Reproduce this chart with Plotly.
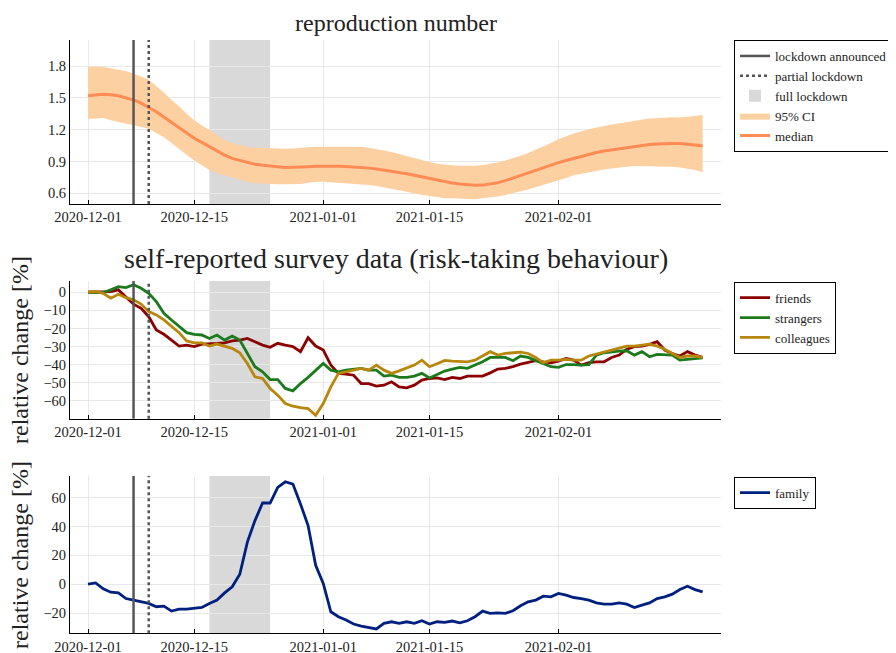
import pandas as pd
import plotly.graph_objects as go

dates = pd.date_range("2020-12-01", periods=82, freq="D")

r_median = [1.52, 1.53, 1.535, 1.53, 1.52, 1.50, 1.48, 1.45, 1.41, 1.37,
            1.32, 1.27, 1.22, 1.17, 1.12, 1.08, 1.04, 1.00, 0.96, 0.93,
            0.91, 0.89, 0.875, 0.865, 0.855, 0.85, 0.845, 0.845, 0.85, 0.852,
            0.855, 0.857, 0.857, 0.855, 0.853, 0.85, 0.845, 0.838, 0.83, 0.82,
            0.81, 0.80, 0.785, 0.77, 0.755, 0.74, 0.725, 0.71, 0.698, 0.688,
            0.68, 0.677, 0.678, 0.688, 0.70, 0.72, 0.745, 0.77, 0.795, 0.82,
            0.845, 0.87, 0.89, 0.91, 0.93, 0.95, 0.97, 0.985, 1.00, 1.01,
            1.025, 1.035, 1.045, 1.05, 1.06, 1.065, 1.07, 1.07, 1.07, 1.065,
            1.055, 1.046]
r_upper = [1.79, 1.795, 1.79, 1.78, 1.765, 1.75, 1.73, 1.70, 1.67, 1.61,
           1.55, 1.48, 1.42, 1.35, 1.29, 1.24, 1.20, 1.15, 1.10, 1.075,
           1.055, 1.04, 1.03, 1.027, 1.025, 1.02, 1.02, 1.022, 1.025, 1.035,
           1.04, 1.04, 1.045, 1.042, 1.04, 1.04, 1.04, 1.03, 1.02, 1.005,
           0.99, 0.97, 0.95, 0.93, 0.915, 0.895, 0.88, 0.87, 0.865, 0.86,
           0.857, 0.86, 0.867, 0.875, 0.89, 0.91, 0.93, 0.955, 0.98, 1.01,
           1.04, 1.075, 1.11, 1.14, 1.165, 1.185, 1.205, 1.22, 1.235, 1.25,
           1.26, 1.27, 1.285, 1.295, 1.305, 1.31, 1.315, 1.317, 1.315, 1.32,
           1.33, 1.34]
r_lower = [1.30, 1.305, 1.31, 1.29, 1.275, 1.26, 1.245, 1.23, 1.21, 1.17,
           1.13, 1.075, 1.02, 0.965, 0.91, 0.865, 0.82, 0.79, 0.77, 0.745,
           0.725, 0.71, 0.695, 0.69, 0.688, 0.687, 0.686, 0.687, 0.688, 0.70,
           0.71, 0.71, 0.705, 0.70, 0.695, 0.693, 0.69, 0.68, 0.67, 0.658,
           0.645, 0.63, 0.615, 0.60, 0.585, 0.575, 0.565, 0.555, 0.553, 0.548,
           0.543, 0.545, 0.553, 0.56, 0.57, 0.585, 0.60, 0.618, 0.637, 0.658,
           0.678, 0.70, 0.72, 0.745, 0.77, 0.785, 0.80, 0.813, 0.826, 0.835,
           0.845, 0.85, 0.857, 0.857, 0.857, 0.857, 0.857, 0.852, 0.845, 0.835,
           0.82, 0.80]

friends = [0, 0, 0, 0.3, 1.3, -2.4, -6.6, -8.9, -13.5, -20.8,
           -23.2, -26.4, -29.7, -29.2, -30.0, -28.6, -28.2, -28.2, -27.9, -26.8,
           -26.4, -25.5, -27.3, -29.2, -30.4, -28.2, -29.2, -30.0, -32.8, -25.1,
           -29.7, -31.9, -40.2, -44.8, -45.2, -45.8, -50.4, -50.4, -51.8, -51.3,
           -49.4, -52.2, -52.8, -51.3, -48.5, -47.6, -47.3, -48.2, -47.0, -47.6,
           -46.3, -46.3, -46.3, -44.5, -42.4, -42.0, -41.1, -39.7, -38.9, -37.8,
           -38.4, -38.9, -38.0, -36.5, -37.5, -40.2, -38.9, -38.4, -38.4, -36.0,
           -34.7, -31.4, -30.0, -29.7, -28.8, -27.3, -31.9, -33.8, -35.2, -32.8,
           -34.7, -36.0]
strangers = [0, -0.2, -0.2, 1.3, 3.1, 2.6, 4.1, 2.2, -0.6, -5.2,
             -11.6, -15.3, -19.0, -22.3, -23.2, -23.6, -25.5, -23.6, -26.4, -24.2,
             -26.4, -33.8, -41.1, -43.9, -48.2, -48.2, -53.1, -54.4, -50.4, -47.0,
             -43.0, -39.3, -43.0, -43.9, -43.0, -42.6, -42.0, -43.0, -43.0, -46.3,
             -45.8, -47.0, -47.0, -46.3, -44.8, -47.3, -45.3, -43.5, -42.4, -41.5,
             -42.0, -40.2, -38.4, -36.0, -36.2, -36.0, -37.8, -35.2, -36.0, -37.8,
             -39.7, -41.1, -41.5, -39.9, -39.9, -40.2, -39.9, -34.7, -33.4, -32.8,
             -32.5, -32.3, -34.7, -32.8, -35.6, -34.3, -34.7, -34.7, -37.5, -37.1,
             -36.5, -36.2]
colleagues = [0, 0.4, -0.6, -3.3, -1.1, -3.0, -4.2, -6.5, -10.7, -12.5,
              -15.3, -19.0, -22.3, -26.9, -27.9, -27.9, -29.7, -28.6, -30.0, -31.0,
              -33.4, -39.3, -46.7, -47.6, -53.1, -56.8, -61.4, -62.9, -63.7, -64.2,
              -67.9, -61.4, -52.2, -44.8, -43.9, -43.0, -42.0, -43.0, -40.2, -43.0,
              -44.8, -43.4, -42.0, -40.2, -37.5, -41.1, -39.5, -37.6, -38.0, -38.0,
              -38.4, -37.5, -35.2, -32.8, -34.7, -33.8, -33.4, -33.1, -33.8, -36.0,
              -38.9, -37.5, -37.5, -37.1, -37.5, -37.5, -35.2, -34.1, -33.4, -31.9,
              -31.0, -29.7, -29.7, -29.2, -28.6, -29.7, -31.5, -33.8, -36.0, -35.2,
              -35.2, -36.0]
family = [0, 0.9, -3.2, -5.5, -6.0, -9.9, -11.0, -12.2, -13.3, -15.6,
          -15.2, -18.6, -17.2, -17.2, -16.8, -16.1, -13.3, -11.0, -6.0, -1.8,
          6.9, 29.2, 44.1, 56.3, 56.3, 67.1, 71.0, 69.4, 55.6, 40.7,
          13.1, 0.5, -19.1, -22.5, -24.8, -27.6, -29.0, -29.9, -31.0, -27.1,
          -26.0, -27.1, -26.0, -27.1, -25.3, -27.6, -26.0, -26.4, -25.5, -26.7,
          -25.3, -22.5, -18.6, -20.2, -19.8, -20.2, -18.4, -14.9, -12.2, -11.0,
          -8.3, -8.7, -6.4, -7.6, -9.2, -9.9, -11.0, -12.9, -13.8, -13.8,
          -12.9, -13.8, -16.1, -14.5, -12.9, -9.9, -8.7, -6.9, -3.7, -1.4,
          -3.7, -5.3]

lockdown_announced = "2020-12-07"
partial_lockdown = "2020-12-09"
full_lockdown = ("2020-12-17", "2020-12-25")

x_ticks = ["2020-12-01", "2020-12-15", "2021-01-01", "2021-01-15", "2021-02-01"]
r_ticks = [0.6, 0.9, 1.2, 1.5, 1.8]
survey_ticks = [0, -10, -20, -30, -40, -50, -60]
family_ticks = [-20, 0, 20, 40, 60]

FONT = "Liberation Serif"
TXT = "#222222"
W, H = 896, 653
OFF = 8  # page body margin offset
C_MED = "#FF8B55"
C_CI = "#FDD0A2"
C_VLINE = "#555555"
C_SHADE = "#D9D9D9"
GRID = "#E8E8E8"


def px(xp):
    return (xp - OFF) / W


def py(yp):
    return 1 - (yp - OFF) / H


fig = go.Figure()

fig.add_trace(go.Scatter(x=dates, y=r_lower, mode="lines", line=dict(width=0),
                         showlegend=False, hoverinfo="skip", xaxis="x", yaxis="y"))
fig.add_trace(go.Scatter(x=dates, y=r_upper, mode="lines", line=dict(width=0),
                         fill="tonexty", fillcolor=C_CI, name="95% CI",
                         legend="legend", legendrank=4, xaxis="x", yaxis="y"))
fig.add_trace(go.Scatter(x=dates, y=r_median, mode="lines",
                         line=dict(color=C_MED, width=3), name="median",
                         legend="legend", legendrank=5, xaxis="x", yaxis="y"))

for name, vals, col in [("friends", friends, "#8B0000"),
                        ("strangers", strangers, "#1C7A1C"),
                        ("colleagues", colleagues, "#B8860B")]:
    fig.add_trace(go.Scatter(x=dates, y=vals, mode="lines",
                             line=dict(color=col, width=2.8), name=name,
                             legend="legend2", xaxis="x2", yaxis="y2"))

fig.add_trace(go.Scatter(x=dates, y=family, mode="lines",
                         line=dict(color="#00207F", width=2.8), name="family",
                         legend="legend3", xaxis="x3", yaxis="y3"))

shapes = []
for i, ax in enumerate(["", "2", "3"]):
    first = (i == 0)
    shapes.append(dict(type="rect", xref="x" + ax, yref="y" + ax + " domain",
                       x0=full_lockdown[0], x1=full_lockdown[1], y0=0, y1=1,
                       fillcolor=C_SHADE, line=dict(width=0), layer="below",
                       showlegend=first, name="full lockdown", legend="legend",
                       legendrank=3))
    shapes.append(dict(type="line", xref="x" + ax, yref="y" + ax + " domain",
                       x0=lockdown_announced, x1=lockdown_announced, y0=0, y1=1,
                       line=dict(color=C_VLINE, width=2.5), layer="above",
                       showlegend=first, name="lockdown announced", legend="legend",
                       legendrank=1))
    shapes.append(dict(type="line", xref="x" + ax, yref="y" + ax + " domain",
                       x0=partial_lockdown, x1=partial_lockdown, y0=0, y1=1,
                       line=dict(color=C_VLINE, width=2.5, dash="dot"), layer="above",
                       showlegend=first, name="partial lockdown", legend="legend",
                       legendrank=2))

xdom = [px(70), px(721)]


def ydom(top, bottom):
    return [py(bottom), py(top)]


xaxis_style = dict(domain=xdom, range=["2020-11-28 15:00", "2021-02-22 10:00"],
                   tickvals=x_ticks, tickformat="%Y-%m-%d", showgrid=True,
                   gridcolor=GRID, showline=True, linecolor="#000000",
                   linewidth=1, ticks="inside", ticklen=4, tickcolor="#000000",
                   tickfont=dict(family=FONT, size=14.5, color=TXT),
                   zeroline=False, automargin=False)
yaxis_style = dict(showgrid=True, gridcolor=GRID, showline=True,
                   linecolor="#000000", linewidth=1, ticks="", zeroline=False,
                   tickfont=dict(family=FONT, size=14.5, color=TXT),
                   automargin=False)

legend_style = dict(x=px(734), xanchor="left", yanchor="top", bgcolor="white",
                    bordercolor="#000000", borderwidth=1, traceorder="normal",
                    font=dict(family=FONT, size=13, color=TXT),
                    itemwidth=30, tracegroupgap=0)

fig.update_layout(
    width=W, height=H,
    margin=dict(l=0, r=0, t=0, b=0, autoexpand=False),
    paper_bgcolor="white", plot_bgcolor="white",
    font=dict(family=FONT, color=TXT),
    xaxis=dict(**xaxis_style, anchor="y"),
    xaxis2=dict(**xaxis_style, anchor="y2"),
    xaxis3=dict(**xaxis_style, anchor="y3"),
    yaxis=dict(**yaxis_style, domain=ydom(40, 204), range=[0.5, 2.045],
               tickvals=r_ticks, tickformat=".1f", anchor="x"),
    yaxis2=dict(**yaxis_style, domain=ydom(281, 418.7), range=[-69.8, 6.2],
                tickvals=survey_ticks, anchor="x2"),
    yaxis3=dict(**yaxis_style, domain=ydom(476, 633.3), range=[-34, 75],
                tickvals=family_ticks, anchor="x3"),
    legend=dict(**legend_style, y=py(40)),
    legend2=dict(**legend_style, y=py(281.7)),
    legend3=dict(**legend_style, y=py(476.7)),
    shapes=shapes,
    annotations=[
        dict(text="reproduction number", xref="paper", yref="paper",
             x=px((70 + 721) / 2), y=py(23.5), showarrow=False,
             font=dict(family=FONT, size=24, color=TXT),
             xanchor="center", yanchor="middle"),
        dict(text="self-reported survey data (risk-taking behaviour)", xref="paper",
             yref="paper", x=px((70 + 721) / 2), y=py(258), showarrow=False,
             font=dict(family=FONT, size=28, color=TXT),
             xanchor="center", yanchor="middle"),
        dict(text="relative change [%]", xref="paper", yref="paper",
             x=px(20), y=py(350), showarrow=False, textangle=-90,
             xanchor="center", yanchor="middle",
             font=dict(family=FONT, size=24, color=TXT)),
        dict(text="relative change [%]", xref="paper", yref="paper",
             x=px(20), y=py(555), showarrow=False, textangle=-90,
             xanchor="center", yanchor="middle",
             font=dict(family=FONT, size=24, color=TXT)),
    ],
    showlegend=True,
)

fig.write_html("out.html")
